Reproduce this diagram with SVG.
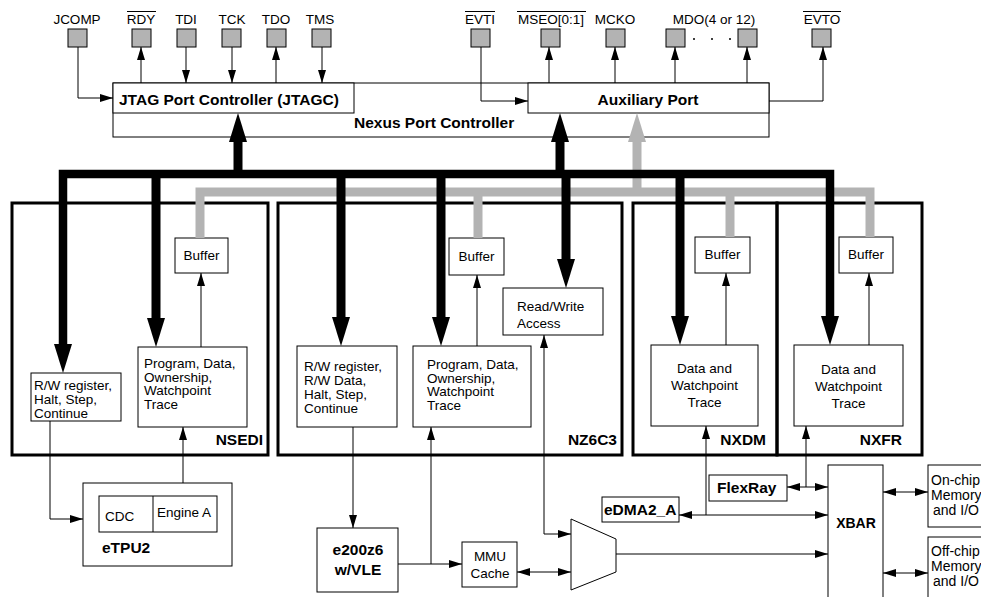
<svg xmlns="http://www.w3.org/2000/svg" width="981" height="597" viewBox="0 0 981 597">
<style>
.t{font-family:"Liberation Sans",Arial,Helvetica,sans-serif;font-size:13.5px;fill:#000}
.b{font-weight:bold;font-size:15.5px}
.m{text-anchor:middle}
.e{text-anchor:end}
.box{fill:#fff;stroke:#000;stroke-width:1}
.mod{fill:none;stroke:#000;stroke-width:3}
.pin{fill:#b3b3b3;stroke:#000;stroke-width:1}
.ln{fill:none;stroke:#000;stroke-width:1}
.a{marker-end:url(#ah)}
.aa{marker-start:url(#ah);marker-end:url(#ah)}
.thk{fill:none;stroke:#000;stroke-width:9}
.gry{fill:none;stroke:#b3b3b3;stroke-width:9}
.ol{stroke:#000;stroke-width:1}
.s14{font-size:14px}
</style>
<defs>
<marker id="ah" markerUnits="userSpaceOnUse" markerWidth="13" markerHeight="8" refX="13" refY="4" orient="auto-start-reverse" overflow="visible"><path d="M0,0 L13,4 L0,8 z" fill="#000"/></marker>
<marker id="bh" markerUnits="userSpaceOnUse" markerWidth="29" markerHeight="18" refX="0" refY="9" orient="auto" overflow="visible"><path d="M0,0 L29,9 L0,18 z" fill="#000"/></marker>
<marker id="gh" markerUnits="userSpaceOnUse" markerWidth="29" markerHeight="18" refX="0" refY="9" orient="auto" overflow="visible"><path d="M0,0 L29,9 L0,18 z" fill="#b3b3b3"/></marker>
</defs>
<rect width="981" height="597" fill="#fff"/>

<g id="pins">
<rect class="pin" x="68" y="29" width="19" height="18"/>
<rect class="pin" x="132" y="29" width="19" height="18"/>
<rect class="pin" x="177" y="29" width="19" height="18"/>
<rect class="pin" x="222" y="29" width="19" height="18"/>
<rect class="pin" x="267" y="29" width="19" height="18"/>
<rect class="pin" x="312" y="29" width="19" height="18"/>
<rect class="pin" x="471" y="29" width="19" height="18"/>
<rect class="pin" x="541" y="29" width="19" height="18"/>
<rect class="pin" x="606" y="29" width="19" height="18"/>
<rect class="pin" x="666" y="29" width="19" height="18"/>
<rect class="pin" x="738" y="29" width="19" height="18"/>
<rect class="pin" x="812" y="29" width="19" height="18"/>
<text class="t m" x="77" y="24">JCOMP</text>
<text class="t m" x="141" y="24">RDY</text>
<line class="ol" x1="127" y1="11.5" x2="156" y2="11.5"/>
<text class="t m" x="186" y="24">TDI</text>
<text class="t m" x="232" y="24">TCK</text>
<text class="t m" x="276" y="24">TDO</text>
<text class="t m" x="320" y="24">TMS</text>
<text class="t m" x="480" y="24">EVTI</text>
<line class="ol" x1="465" y1="11.5" x2="495" y2="11.5"/>
<text class="t m" x="551" y="24">MSEO[0:1]</text>
<line class="ol" x1="517" y1="11.5" x2="586" y2="11.5"/>
<text class="t m" x="615" y="24">MCKO</text>
<text class="t m" x="714" y="24">MDO(4 or 12)</text>
<text class="t m" x="822" y="24">EVTO</text>
<line class="ol" x1="803" y1="11.5" x2="841" y2="11.5"/>
<circle cx="694" cy="39" r="1" fill="#000"/>
<circle cx="712" cy="39" r="1" fill="#000"/>
<circle cx="730" cy="39" r="1" fill="#000"/>
</g>

<g id="nexus-port-controller">
<rect class="box" x="113" y="83" width="656" height="54"/>
<text class="t b" x="354" y="128">Nexus Port Controller</text>
</g>
<g id="jtagc">
<rect class="box" x="113" y="83" width="241" height="30"/>
<text class="t b" x="119" y="105">JTAG Port Controller (JTAGC)</text>
</g>
<g id="aux-port">
<rect class="box" x="528" y="83" width="241" height="30"/>
<text class="t b m" x="648" y="105">Auxiliary Port</text>
</g>

<g id="nsedi">
<rect class="mod" x="12" y="203" width="256" height="252"/>
<text class="t b e" x="263" y="445">NSEDI</text>
</g>
<g id="nz6c3">
<rect class="mod" x="278" y="203" width="344" height="252"/>
<text class="t b e" x="617" y="445">NZ6C3</text>
</g>
<g id="nxdm">
<rect class="mod" x="633" y="203" width="144" height="252"/>
<text class="t b e" x="766" y="445">NXDM</text>
</g>
<g id="nxfr">
<rect class="mod" x="777" y="203" width="145" height="252"/>
<text class="t b e" x="902" y="445">NXFR</text>
</g>

<g id="nsedi-buffer">
<rect class="box" x="175" y="238" width="53" height="35"/>
<text class="t m" x="201.5" y="260">Buffer</text>
</g>
<g id="nsedi-rw">
<rect class="box" x="31" y="373" width="90" height="48"/>
<text class="t" x="34" y="390">R/W register,</text>
<text class="t" x="34" y="404">Halt, Step,</text>
<text class="t" x="34" y="418">Continue</text>
</g>
<g id="nsedi-trace">
<rect class="box" x="138" y="347" width="109" height="80"/>
<text class="t" x="144" y="368">Program, Data,</text>
<text class="t" x="144" y="381.5">Ownership,</text>
<text class="t" x="144" y="395">Watchpoint</text>
<text class="t" x="144" y="408.5">Trace</text>
</g>

<g id="nz6c3-buffer">
<rect class="box" x="449" y="238" width="55" height="37"/>
<text class="t m" x="476.5" y="261">Buffer</text>
</g>
<g id="nz6c3-rw">
<rect class="box" x="297" y="346" width="100" height="81"/>
<text class="t" x="304" y="371">R/W register,</text>
<text class="t" x="304" y="385">R/W Data,</text>
<text class="t" x="304" y="399">Halt, Step,</text>
<text class="t" x="304" y="413">Continue</text>
</g>
<g id="nz6c3-trace">
<rect class="box" x="413" y="346" width="118" height="81"/>
<text class="t" x="427" y="369">Program, Data,</text>
<text class="t" x="427" y="382.5">Ownership,</text>
<text class="t" x="427" y="396">Watchpoint</text>
<text class="t" x="427" y="409.5">Trace</text>
</g>
<g id="nz6c3-rwaccess">
<rect class="box" x="503" y="288" width="100" height="47"/>
<text class="t" x="517" y="311">Read/Write</text>
<text class="t" x="517" y="328">Access</text>
</g>

<g id="nxdm-buffer">
<rect class="box" x="695" y="237" width="55" height="36"/>
<text class="t m" x="722.5" y="259">Buffer</text>
</g>
<g id="nxdm-trace">
<rect class="box" x="651" y="345" width="107" height="81"/>
<text class="t m" x="704.5" y="373">Data and</text>
<text class="t m" x="704.5" y="390">Watchpoint</text>
<text class="t m" x="704.5" y="407">Trace</text>
</g>
<g id="nxfr-buffer">
<rect class="box" x="839" y="237" width="54" height="36"/>
<text class="t m" x="866" y="259">Buffer</text>
</g>
<g id="nxfr-trace">
<rect class="box" x="794" y="345" width="109" height="81"/>
<text class="t m" x="848.5" y="374">Data and</text>
<text class="t m" x="848.5" y="391">Watchpoint</text>
<text class="t m" x="848.5" y="408">Trace</text>
</g>

<g id="etpu2">
<rect class="box" x="83" y="483" width="149" height="83"/>
<rect class="box" x="99" y="496" width="118" height="36"/>
<line class="ln" x1="153" y1="496" x2="153" y2="532"/>
<text class="t" x="105" y="521">CDC</text>
<text class="t" x="157" y="517">Engine A</text>
<text class="t b" x="102" y="553">eTPU2</text>
</g>
<g id="e200z6">
<rect class="box" x="317" y="528" width="81" height="64"/>
<text class="t b m" x="358" y="555">e200z6</text>
<text class="t b m" x="358" y="575">w/VLE</text>
</g>
<g id="mmu">
<rect class="box" x="462" y="542" width="55" height="45"/>
<text class="t m" x="490" y="561">MMU</text>
<text class="t m" x="490" y="578">Cache</text>
</g>
<g id="mux">
<path class="box" d="M571,519 L616,539 L616,572 L571,590 Z"/>
</g>
<g id="edma">
<rect class="box" x="602" y="497" width="77" height="25"/>
<text class="t b" x="604" y="515">eDMA2_A</text>
</g>
<g id="flexray">
<rect class="box" x="709" y="475" width="78" height="26"/>
<text class="t b" x="717" y="493">FlexRay</text>
</g>
<g id="xbar">
<rect class="box" x="828" y="465" width="55" height="140"/>
<text class="t b m s14" x="856" y="528">XBAR</text>
</g>
<g id="onchip">
<rect class="box" x="928" y="465" width="80" height="62"/>
<text class="t s14" x="931" y="485">On-chip</text>
<text class="t s14" x="931" y="500">Memory</text>
<text class="t s14" x="933" y="515">and I/O</text>
</g>
<g id="offchip">
<rect class="box" x="928" y="537" width="80" height="70"/>
<text class="t s14" x="931" y="556">Off-chip</text>
<text class="t s14" x="931" y="571">Memory</text>
<text class="t s14" x="933" y="586">and I/O</text>
</g>

<g id="connectors">
<path class="ln a" d="M78,47 V98 H113"/>
<path class="ln a" d="M141,83 V47"/>
<path class="ln a" d="M186,47 V83"/>
<path class="ln a" d="M232,47 V83"/>
<path class="ln a" d="M276,83 V47"/>
<path class="ln a" d="M322,47 V83"/>
<path class="ln a" d="M481,47 V101 H528"/>
<path class="ln a" d="M549,83 V47"/>
<path class="ln a" d="M615,83 V47"/>
<path class="ln a" d="M675,83 V47"/>
<path class="ln a" d="M747,83 V47"/>
<path class="ln a" d="M769,101 H823 V47"/>

<path class="gry" d="M200,238 V192 H870 V237"/>
<path class="gry" d="M478,192 V238"/>
<path class="gry" d="M730,192 V237"/>
<path class="gry" d="M637,192 V142" marker-end="url(#gh)"/>

<path class="thk" d="M63,344 V174 H830 V316" marker-end="url(#bh)" style="stroke-width:8.5"/>
<path class="thk" d="M156,174 V318" marker-end="url(#bh)"/>
<path class="thk" d="M341,174 V317" marker-end="url(#bh)"/>
<path class="thk" d="M441,174 V317" marker-end="url(#bh)"/>
<path class="thk" d="M566,174 V259" marker-end="url(#bh)"/>
<path class="thk" d="M680,174 V316" marker-end="url(#bh)"/>
<path class="thk" d="M238,174 V142" marker-end="url(#bh)"/>
<path class="thk" d="M560,174 V142" marker-end="url(#bh)"/>
<path d="M54,344 L72,344 L63,373 Z" fill="#000"/>

<path class="ln a" d="M201,347 V273"/>
<path class="ln a" d="M477,346 V275"/>
<path class="ln a" d="M726,345 V273"/>
<path class="ln a" d="M869,345 V273"/>

<path class="ln a" d="M50,421 V519 H83"/>
<path class="ln a" d="M183,483 V427"/>
<path class="ln a" d="M353,427 V528"/>
<path class="ln a" d="M398,564 H462"/>
<path class="ln a" d="M431,564 V427"/>
<path class="ln aa" d="M544,335 V534 H571"/>
<path class="ln aa" d="M517,572 H571"/>
<path class="ln a" d="M616,554 H828"/>
<path class="ln aa" d="M679,515 H828"/>
<path class="ln a" d="M706,515 V426"/>
<path class="ln aa" d="M787,487 H828"/>
<path class="ln a" d="M806,487 V426"/>
<path class="ln aa" d="M883,492 H928"/>
<path class="ln aa" d="M883,573 H928"/>
</g>
</svg>
